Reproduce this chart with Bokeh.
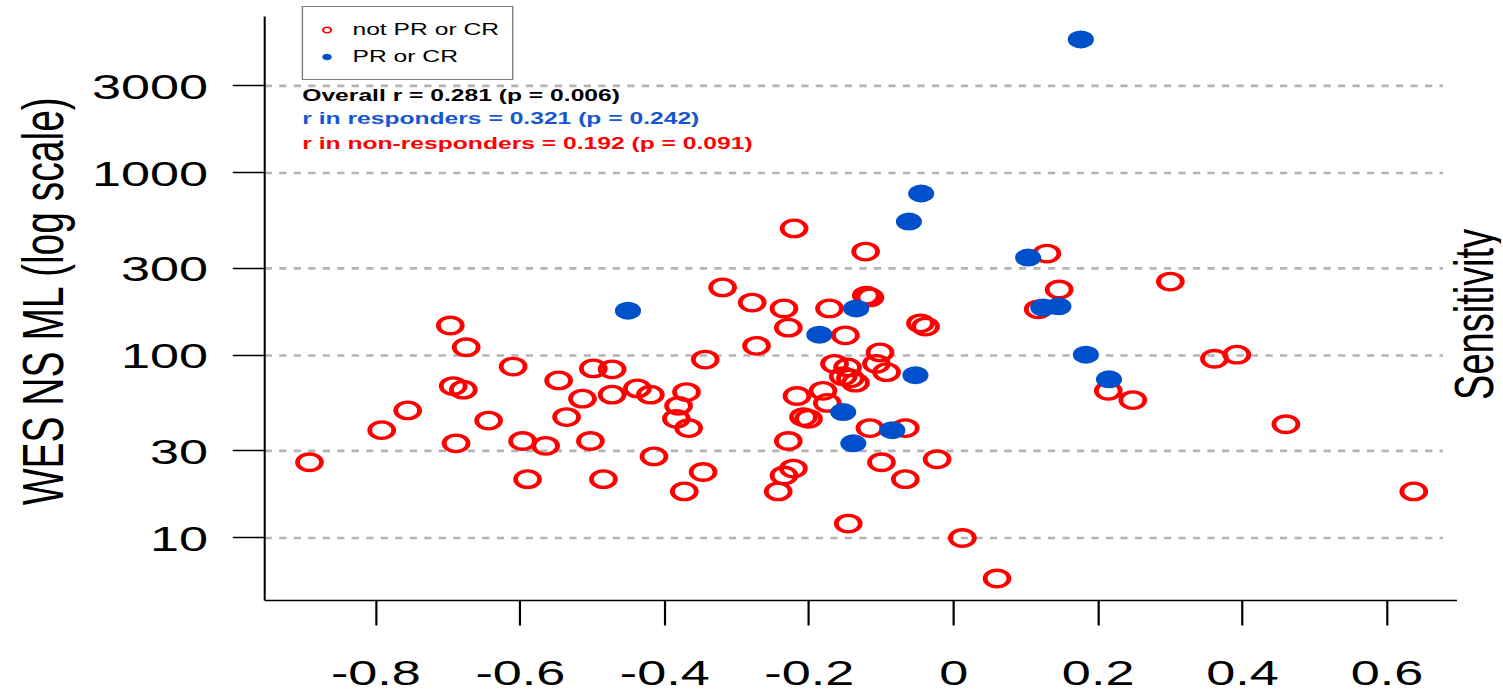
from math import pi, sqrt

from bokeh.embed import file_html
from bokeh.models import FixedTicker, Label, Legend, LegendItem, Range1d
from bokeh.plotting import figure
from bokeh.resources import INLINE

# Correlation (x) and whole-exome non-synonymous mutation load (y) per patient
nonresp_corr = [-0.892, -0.792, -0.756, -0.697, -0.675, -0.693, -0.679, -0.689, -0.644, -0.610,
                -0.597, -0.565, -0.590, -0.547, -0.536, -0.514, -0.503, -0.499, -0.473, -0.473,
                -0.438, -0.420, -0.415, -0.485, -0.370, -0.381, -0.384, -0.367, -0.344, -0.347,
                -0.373, -0.320, -0.279, -0.235, -0.229, -0.273, -0.217, -0.208, -0.201, -0.229,
                -0.222, -0.235, -0.243, -0.221, -0.122, -0.172, -0.121, -0.116, -0.046, -0.039,
                -0.150, -0.102, -0.165, -0.147, -0.107, -0.093, -0.153, -0.143, -0.136, -0.181,
                -0.175, -0.116, -0.067, -0.100, -0.023, -0.067, -0.146, 0.012, 0.060, 0.129,
                0.300, 0.146, 0.117, 0.214, 0.248, 0.361, 0.392, 0.460, 0.637]
nonresp_ml = [26, 39, 50, 146, 111, 68, 65, 33, 44, 87,
              34, 32, 21, 73, 46, 58, 34, 85, 84, 61,
              66, 61, 28, 21, 63, 53, 45, 40, 95, 23,
              18, 236, 195, 181, 142, 113, 60, 46, 45, 34,
              24, 22, 18, 497, 371, 181, 213, 208, 150, 144,
              129, 104, 90, 86, 90, 81, 77, 75, 71, 64,
              55, 40, 40, 26, 27, 21, 12, 10, 6, 362,
              254, 230, 179, 64, 57, 96, 101, 42, 18]

resp_corr = [0.176, -0.045, -0.062, 0.103, -0.451, -0.135, -0.186, 0.124, 0.145, 0.183,
             0.215, -0.053, -0.153, -0.085, -0.139]
resp_ml = [5390, 772, 542, 344, 176, 181, 130, 183, 186, 101,
           74, 78, 49, 39, 33]

x_ticks = [-0.8, -0.6, -0.4, -0.2, 0, 0.2, 0.4, 0.6]
x_tick_labels = ["-0.8", "-0.6", "-0.4", "-0.2", "0", "0.2", "0.4", "0.6"]
y_ticks = [10, 30, 100, 300, 1000, 3000]
y_tick_labels = ["10", "30", "100", "300", "1000", "3000"]

group_labels = ["not PR or CR", "PR or CR"]
stats_lines = ["Overall r = 0.281 (p = 0.006)",
               "r in responders = 0.321 (p = 0.242)",
               "r in non-responders = 0.192 (p = 0.091)"]
stats_y = [2659, 1989, 1451]

# plotting box: axis extents, and the wider visible region around them
X_LO, X_HI = -0.954, 0.696
Y_LO, Y_HI = 4.545, 7203
X_VIEW_HI = 0.759
Y_VIEW_HI = 8814
GRID_X_END = 0.6775

RED = "#ff0000"
BLUE = "#0050cc"
BLUE_TEXT = "#1656d2"
FONT = "Liberation Sans"

# The host element is stretched horizontally; Bokeh sizes its canvas from the
# element's (already stretched) box, so the drawing ends up W * STRETCH**2 wide.
W, H = 714, 694
STRETCH = sqrt(1502.0 / W)

p = figure(width=W, height=H,
           x_range=Range1d(X_LO, X_VIEW_HI), y_range=Range1d(Y_LO, Y_VIEW_HI),
           y_axis_type="log", output_backend="svg", toolbar_location=None,
           min_border_left=182, min_border_right=0,
           min_border_top=0, min_border_bottom=94)
p.styles = {"transform": f"scaleX({STRETCH:.5f})", "transform-origin": "0 0"}

p.outline_line_color = None
p.background_fill_color = "white"
p.border_fill_color = "white"

# axes
p.xaxis.ticker = FixedTicker(ticks=x_ticks)
p.xaxis.major_label_overrides = dict(zip(x_ticks, x_tick_labels))
p.xaxis.bounds = (X_LO, X_HI)
p.yaxis.ticker = FixedTicker(ticks=y_ticks)
p.yaxis.major_label_overrides = dict(zip(y_ticks, y_tick_labels))
p.yaxis.bounds = (Y_LO, Y_HI)

for ax in (p.xaxis[0], p.yaxis[0]):
    ax.axis_line_color = "black"
    ax.axis_line_width = 1.4
    ax.major_tick_line_color = "black"
    ax.major_tick_line_width = 1.5
    ax.major_tick_in = 0
    ax.minor_tick_line_color = None
    ax.major_label_text_font = FONT
    ax.major_label_text_font_size = "36px"
    ax.major_label_text_color = "black"

p.xaxis.major_tick_out = 25
p.xaxis.major_label_standoff = 34
p.xaxis.major_label_text_line_height = 0.75
p.yaxis.major_tick_out = 22
p.yaxis.major_label_standoff = 17

p.yaxis.axis_label = "WES NS ML (log scale)"
p.yaxis.axis_label_text_font = FONT
p.yaxis.axis_label_text_font_size = "39px"
p.yaxis.axis_label_text_font_style = "normal"
p.yaxis.axis_label_text_color = "black"
p.yaxis.axis_label_standoff = 9

# dashed horizontal reference lines at the y ticks
p.xgrid.visible = False
p.ygrid.visible = False
p.segment(x0=[X_LO] * len(y_ticks), y0=y_ticks,
          x1=[GRID_X_END] * len(y_ticks), y1=y_ticks,
          line_color="#b4b4b4", line_width=2.7, line_dash="5 5")

# points
p.scatter(nonresp_corr, nonresp_ml, marker="circle", size=16.5,
          fill_color=None, line_color=RED, line_width=3.3)
p.scatter(resp_corr, resp_ml, marker="circle", size=18,
          fill_color=BLUE, line_color=None)

# legend keys: hidden copies of the two groups drawn with thin, small symbols
key_red = p.scatter(nonresp_corr, nonresp_ml, marker="circle", size=6, fill_color=None,
                    line_color=RED, line_width=1.5, visible=False)
key_blue = p.scatter(resp_corr, resp_ml, marker="circle", size=6, fill_color=BLUE,
                     line_color=BLUE, line_width=1, visible=False)
legend = Legend(items=[LegendItem(label=group_labels[0], renderers=[key_red]),
                       LegendItem(label=group_labels[1], renderers=[key_blue])],
                location=(26, 520), padding=9, spacing=0,
                glyph_width=14, glyph_height=15, label_height=27, label_standoff=11,
                label_text_font=FONT, label_text_font_size="17px",
                label_text_color="black",
                border_line_color="black", border_line_width=1.2,
                background_fill_color="white", background_fill_alpha=1.0,
                inactive_fill_alpha=0.0, click_policy="none",
                margin=0)
p.add_layout(legend)

# correlation summary
for txt, col, yv in zip(stats_lines, ["black", BLUE_TEXT, RED], stats_y):
    p.add_layout(Label(x=-0.902, y=yv, text=txt, text_color=col,
                       text_font=FONT, text_font_size="17px",
                       text_font_style="bold", text_baseline="middle"))

# neighbouring panel's axis title, running off the right edge
p.add_layout(Label(x=0.720, y=168, text="Sensitivity", angle=pi / 2,
                   text_align="center", text_baseline="alphabetic",
                   text_font=FONT, text_font_size="38px", text_color="black"))

open("out.html", "w").write(file_html(p, INLINE))
